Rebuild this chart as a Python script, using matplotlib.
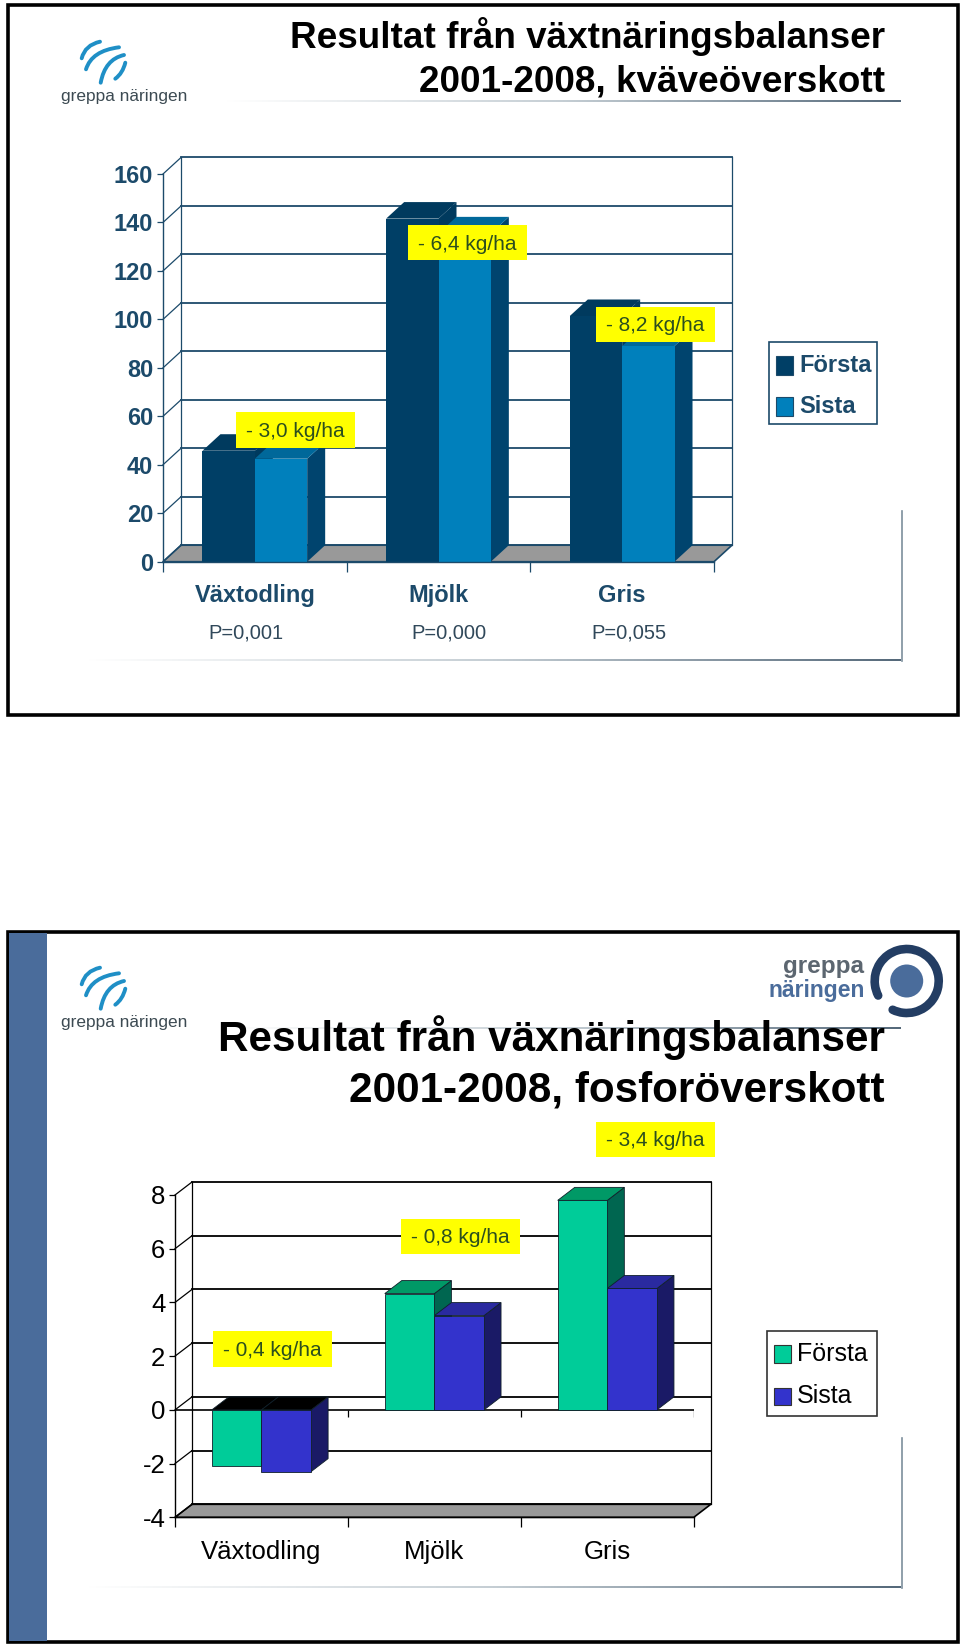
import matplotlib
matplotlib.use("Agg")
import matplotlib.pyplot as plt
import numpy as np
from matplotlib.colors import LinearSegmentedColormap
from matplotlib.patches import Arc, Circle, PathPatch, Rectangle
from matplotlib.path import Path

plt.rcParams['font.family'] = ['Liberation Sans', 'DejaVu Sans']

W, H = 960, 1650

categories = ["Växtodling", "Mjölk", "Gris"]
p_values = ["P=0,001", "P=0,000", "P=0,055"]
series_names = ["Första", "Sista"]

n_forsta = [45.8, 141.6, 101.4]
n_sista = [42.5, 135.5, 89.0]
n_ticks = [0, 20, 40, 60, 80, 100, 120, 140, 160]
n_diffs = ["- 3,0 kg/ha", "- 6,4 kg/ha", "- 8,2 kg/ha"]

p_forsta = [-2.1, 4.33, 7.8]
p_sista = [-2.3, 3.51, 4.52]
p_ticks = [-4, -2, 0, 2, 4, 6, 8]
p_diffs = ["- 0,4 kg/ha", "- 0,8 kg/ha", "- 3,4 kg/ha"]

NAVY = "#003f66"
INK = "#1c4a6a"
YELLOW = "#ffff00"
LABEL_GREEN = "#2c4f1e"

fig = plt.figure(figsize=(W / 100, H / 100), dpi=100, facecolor="white")

# bakgrundsaxel i pixlar, för ramar, logotyper och rubriker
bg = fig.add_axes([0, 0, 1, 1], zorder=0)
bg.set_xlim(0, W)
bg.set_ylim(H, 0)
bg.axis("off")

fade = LinearSegmentedColormap.from_list("fade", ["#ffffff", "#c5ced4", "#55697a"])


def rule(x0, x1, y):
    bg.imshow(np.linspace(0, 1, 256)[None, :], cmap=fade, aspect="auto",
              extent=[x0, x1, y + 1, y - 1], zorder=1)


def left_logo(dy):
    strokes = [
        [(81.7, 58.3), (85, 45), (100, 41.7)],
        [(86, 69.3), (91.7, 50.7), (119, 47.3)],
        [(100.7, 82.7), (105, 59.3), (124, 55)],
        [(115.3, 78.7), (122.7, 73.3), (125.3, 62.7)],
    ]
    for s in strokes:
        verts = [(x, y + dy) for x, y in s]
        bg.add_patch(PathPatch(Path(verts, [Path.MOVETO, Path.CURVE3, Path.CURVE3]),
                               fill=False, ec="#1f8fc6", lw=2.8, capstyle="round", zorder=3))
    bg.text(124.5, 97 + dy, "greppa näringen", fontsize=12.4, color="#3c4a52",
            ha="center", va="center", zorder=3)


def right_logo():
    bg.add_patch(Arc((906.7, 981), 64, 64, theta1=-207, theta2=116, angle=0,
                     ec="#233d63", lw=6.2, capstyle="round", zorder=3))
    bg.add_patch(Circle((906.7, 981), 16.5, fc="#4a6c9b", ec="none", zorder=3))
    bg.text(864.5, 966, "greppa", fontsize=17.5, fontweight="bold", color="#5c6670",
            ha="right", va="center", zorder=3)
    bg.text(864.5, 991, "näringen", fontsize=16.5, fontweight="bold", color="#4a6c9b",
            ha="right", va="center", zorder=3)


def legend_box(x0, x1, y0, y1, edge, rows, colors, weight, text_color, size):
    bg.add_patch(Rectangle((x0, y0), x1 - x0, y1 - y0, fc="white", ec=edge, lw=1.2, zorder=4))
    for (ys0, ys1), name, c in zip(rows, series_names, colors):
        bg.add_patch(Rectangle((x0 + 7.5, ys0), 16.5, ys1 - ys0, fc=c, ec=edge, lw=0.8, zorder=5))
        bg.text(x0 + 30.5, (ys0 + ys1) / 2, name, fontsize=size, fontweight=weight,
                color=text_color, ha="left", va="center", zorder=5)


def diff_label(x0, x1, y0, y1, text):
    # gula rutor ligger över diagrammet
    fig.text((x0 + x1) / 2 / W, 1 - ((y0 + y1) / 2 + 1.5) / H, text, fontsize=15, color=LABEL_GREEN,
             ha="center", va="center", zorder=10)
    fig.patches.append(Rectangle((x0 / W, 1 - y1 / H), (x1 - x0) / W, (y1 - y0) / H,
                                 fc=YELLOW, ec="none", transform=fig.transFigure, zorder=9))


def draw_chart(rect, values_a, values_b, ticks, ink, colors, depth_px, bar_w, edge, tick_font, floor_edge):
    """rect = (x0, x1, y_top, y_bot) för diagrammets framkant, i pixlar."""
    x0, x1, yt, yb = rect
    ax = fig.add_axes([x0 / W, 1 - yb / H, (x1 - x0) / W, (yb - yt) / H], zorder=2)
    ax.patch.set_alpha(0)
    ax.set_xlim(0, 3)
    ax.set_ylim(ticks[0], ticks[-1])
    dx = depth_px[0] / (x1 - x0) * 3
    dy = depth_px[1] / (yb - yt) * (ticks[-1] - ticks[0])
    lo, hi = ticks[0], ticks[-1]

    # väggar och stödlinjer
    ax.fill([0, 3, 3 + dx, dx], [lo, lo, lo + dy, lo + dy], fc="#999999", ec=floor_edge, lw=1.2,
            clip_on=False, zorder=1)
    for t in ticks:
        ax.plot([dx, 3 + dx], [t + dy, t + dy], color=ink, lw=1.3, clip_on=False, zorder=1)
        ax.plot([0, dx], [t, t + dy], color=ink, lw=0.9, clip_on=False, zorder=1)
    ax.plot([dx, dx], [lo + dy, hi + dy], color=ink, lw=0.9, clip_on=False, zorder=1)
    ax.plot([3 + dx, 3 + dx], [lo + dy, hi + dy], color=ink, lw=0.9, clip_on=False, zorder=1)

    # staplar, sida och topp först
    pos = np.arange(3) + 0.5
    for k, (vals, cs) in enumerate(zip((values_a, values_b), colors)):
        left = pos - bar_w if k == 0 else pos
        for xl, v in zip(left, vals):
            top = max(v, 0)
            bottom = min(v, 0)
            ax.fill([xl + bar_w, xl + bar_w + dx, xl + bar_w + dx, xl + bar_w],
                    [bottom, bottom + dy, top + dy, top], fc=cs[2], ec=edge, lw=0.6,
                    clip_on=False, zorder=3 + k)
            ax.fill([xl, xl + dx, xl + bar_w + dx, xl + bar_w], [top, top + dy, top + dy, top],
                    fc=cs[1] if v > 0 else "black", ec=edge, lw=0.6, clip_on=False, zorder=3 + k)
    ax.bar(pos - bar_w / 2, values_a, bar_w, color=colors[0][0], ec=edge, lw=0.6, zorder=6)
    ax.bar(pos + bar_w / 2, values_b, bar_w, color=colors[1][0], ec=edge, lw=0.6, zorder=6)

    for s in ("top", "right"):
        ax.spines[s].set_visible(False)
    for s in ("left", "bottom"):
        ax.spines[s].set_color(ink)
        ax.spines[s].set_linewidth(1.0)
        ax.spines[s].set_zorder(7)
    ax.set_yticks(ticks)
    ax.set_yticklabels([str(t) for t in ticks], **tick_font)
    ax.set_xticks([0, 1, 2, 3])
    ax.set_xticklabels([])
    ax.set_xticks(pos, categories, minor=True, **tick_font)
    ax.tick_params(axis="y", colors=ink, length=4, width=0.9, pad=3, labelcolor=tick_font["color"])
    ax.tick_params(axis="x", which="major", colors=ink, length=7, width=0.9)
    ax.tick_params(axis="x", which="minor", length=0, pad=16)
    return ax, dx, dy


# ---- bild 1, kväve
bg.add_patch(Rectangle((7.5, 4.5), 950, 710.5, fc="white", ec="black", lw=2.6, zorder=0.5))
rule(226, 901, 101)
rule(86, 901, 660.5)
bg.plot([901.5, 901.5], [511, 661], color="#7d8f9c", lw=1.2, zorder=1)
left_logo(0)
bg.text(885, 47.5, "Resultat från växtnäringsbalanser", fontsize=26.6, fontweight="bold",
        ha="right", va="baseline", zorder=3)
bg.text(885, 91.7, "2001-2008, kväveöverskott", fontsize=26.6, fontweight="bold",
        ha="right", va="baseline", zorder=3)

n_colors = [(NAVY, "#003a5e", "#003a5e"), ("#0080bc", "#00689a", "#00446e")]
draw_chart((163, 714, 174, 561.7), n_forsta, n_sista, n_ticks, INK, n_colors, (18, 16.5), 0.285,
           "none", dict(fontsize=17, fontweight="bold", color=INK), INK)

for name, xp in zip(p_values, [246, 449, 629]):
    bg.text(xp, 633, name, fontsize=14.5, color="#30485a", ha="center", va="center", zorder=3)

legend_box(768.5, 877, 341.7, 424.3, INK, [(355.7, 374.7), (397, 415.7)], [NAVY, "#0080bc"], "bold", INK, 17)

diff_label(235.8, 354.6, 412, 447.7, n_diffs[0])
diff_label(408, 527, 225, 260, n_diffs[1])
diff_label(595.8, 714.6, 306.7, 342, n_diffs[2])

# ---- bild 2, fosfor
bg.add_patch(Rectangle((7.5, 931.5), 950, 710, fc="white", ec="black", lw=2.6, zorder=0.5))
bg.add_patch(Rectangle((8.5, 933), 38, 707.5, fc="#4a6c9b", ec="none", zorder=0.6))
rule(226, 901, 1028)
rule(86, 901, 1587.5)
bg.plot([901.5, 901.5], [1438, 1588], color="#7d8f9c", lw=1.2, zorder=1)
left_logo(926)
right_logo()
bg.text(885, 1050.7, "Resultat från växnäringsbalanser", fontsize=30.4, fontweight="bold",
        ha="right", va="baseline", zorder=3)
bg.text(885, 1101.7, "2001-2008, fosforöverskott", fontsize=30.4, fontweight="bold",
        ha="right", va="baseline", zorder=3)

p_colors = [("#00cc99", "#009966", "#006650"), ("#3333cc", "#2a2aa0", "#1a1a66")]
ax2, dx2, dy2 = draw_chart((175, 693.8, 1195, 1517.3), p_forsta, p_sista, p_ticks, "black", p_colors,
                           (17, 13), 0.287, "#10202a", dict(fontsize=18.5, fontweight="normal", color="black"), "black")
# nollinjen med egna streck
ax2.plot([0, 3], [0, 0], color="black", lw=1.2, zorder=2)
ax2.vlines([1, 2, 3], -0.25, 0, color="black", lw=0.9, zorder=2)

legend_box(766.7, 877, 1331, 1416, "#333333", [(1345, 1362.7), (1387.7, 1404.7)],
           ["#00cc99", "#3333cc"], "normal", "black", 18)

diff_label(213, 332, 1331, 1366.7, p_diffs[0])
diff_label(400.5, 520, 1218.7, 1254, p_diffs[1])
diff_label(595.8, 714.6, 1121.7, 1157, p_diffs[2])

bg.set_xlim(0, W)
bg.set_ylim(H, 0)
fig.savefig("out.png", dpi=100)
